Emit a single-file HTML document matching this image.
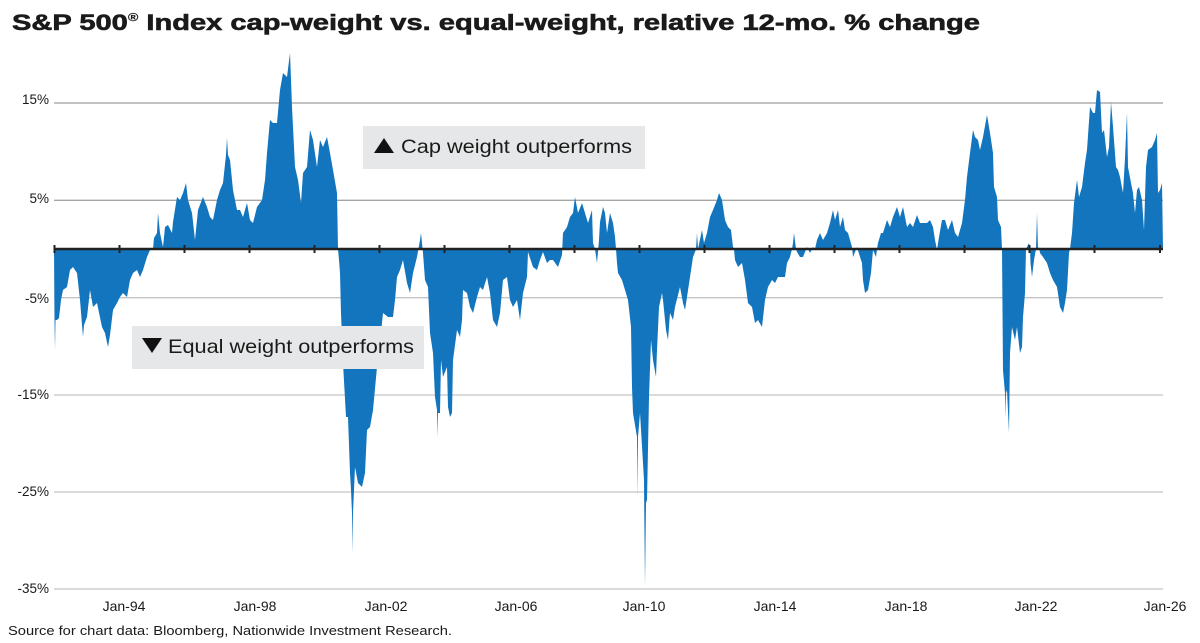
<!DOCTYPE html>
<html>
<head>
<meta charset="utf-8">
<style>
  html, body { margin:0; padding:0; background:#ffffff; }
  body { width:1200px; height:643px; overflow:hidden; }
  svg { display:block; }
  text { font-family: "Liberation Sans", "DejaVu Sans", sans-serif; fill:#1a1a1a; }
</style>
</head>
<body>
<svg width="1200" height="643" viewBox="0 0 1200 643" xmlns="http://www.w3.org/2000/svg">
  <rect x="0" y="0" width="1200" height="643" fill="#ffffff"/>

  <!-- Title -->
  <text x="12" y="30" font-size="22.5" font-weight="bold" stroke="#1a1a1a" stroke-width="0.6" textLength="968" lengthAdjust="spacingAndGlyphs">S&amp;P 500<tspan font-size="11" dy="-9" stroke-width="0.2">®</tspan><tspan dy="9"> Index cap-weight vs. equal-weight, relative 12-mo. % change</tspan></text>

  <!-- Gridlines -->
  <g stroke-width="1.3">
    <line x1="54" y1="103" x2="1163" y2="103" stroke="#9c9c9c"/>
    <line x1="54" y1="200.3" x2="1163" y2="200.3" stroke="#a6a6a6"/>
    <line x1="54" y1="297.7" x2="1163" y2="297.7" stroke="#c4c4c4"/>
    <line x1="54" y1="395" x2="1163" y2="395" stroke="#c4c4c4"/>
    <line x1="54" y1="492" x2="1163" y2="492" stroke="#c4c4c4"/>
    <line x1="54" y1="589" x2="1163" y2="589" stroke="#c4c4c4"/>
  </g>

  <!-- Y labels -->
  <g font-size="13.5" text-anchor="end">
    <text x="49" y="104">15%</text>
    <text x="49" y="203">5%</text>
    <text x="49" y="303">-5%</text>
    <text x="49" y="399">-15%</text>
    <text x="49" y="496">-25%</text>
    <text x="49" y="593">-35%</text>
  </g>

  <!-- Data area -->
  <polygon fill="#1275bd" points="
54,249 54.5,320 55,350 55.5,320 57,320 59,318 61,300 63,290 67,287 70,270 73,267 77,273 80,300 83,337 84,325 87,317 90,290 93,307 97,303 102,327 105,333 108,347 110,335 113,310 117,303 120,297 123,293 127,297 130,280 133,273 137,270 140,277 143,270 147,257 150,250 153,249
154,238 157,233 158,213 160,233 163,247 165,227 168,225 172,233 173,222 177,197 180,200 183,193 186,183 188,200 192,213 195,240 198,210 203,197 207,207 210,217 213,220 217,200 220,190 223,183 226,155 227,138 228,155 230,160 233,190 237,210 240,210 243,217 247,203 250,220 253,223 257,207 262,200 265,180 267,153 270,120 273,123 277,123 280,90 283,73 287,77 290,53 292,107 295,167 298,180 301,203 303,173 307,167 310,130 313,140 317,167 320,140 323,147 327,137 330,153 333,170 337,193 338,249
339,260 340,273 341,313 343,363 346,417 348,417 350,473 351,490 352,513 352.5,553 353,513 355,467 358,483 362,487 365,473 367,430 370,427 373,410 377,367 378,363 383,313 388,317 393,317 395,300 397,277 400,270 403,260 407,283 410,293 413,273 417,257 420,240 421,233 423,253 425,280 428,287 430,333 433,353 435,397 437,410 437.5,437 438,413 440,413 441,360 443,377 447,367 448,407 450,417 452,413 453,360 457,330 460,337 462,320 463,290 467,293 470,307 473,313 477,297 480,287 483,290 487,277 490,293 493,320 497,327 500,313 503,280 507,277 510,300 513,307 517,300 520,320 523,293 527,277 528,252 533,267 537,270 540,260 543,252 547,263 550,260 553,260 558,267 562,255
563,233 567,227 570,217 573,213 575,197 578,213 582,203 585,213 588,223 592,210 593,243 595,249 597,263 599,240 600,222 603,207 605,213 607,233 610,213 613,223 615,237 616,249
617,263 618,273 622,280 625,290 628,300 631,327 632,387 633,413 637,437 637.5,497 638,437 640,413 643,463 644,480 645,587 646,503 647,500 649,397 651,340 653,360 656,377 657,350 659,307 662,293 663,300 666,330 668,340 670,313 673,320 675,307 680,287 683,303 685,310 687,297 690,277 693,257 695,252 696,249
697,233 698,249 702,230 704,243 707,233 710,217 713,210 717,200 719,193 722,200 725,220 728,227 731,230 733,247 734,249
735,260 738,267 742,263 745,280 748,303 752,307 755,323 758,320 762,327 765,300 768,287 772,280 775,283 778,277 782,277 785,277 787,263 790,257 792,249
793,243 794,233 796,249 797,252 800,257 803,257 807,247 810,253 813,247 815,249
817,240 820,233 823,240 827,233 830,223 833,210 835,220 838,210 840,227 843,217 845,230 848,233 852,247 853,257 857,247 860,257 862,263 863,280 865,293 868,290 871,273 873,250 876,257 877,249
878,243 881,233 883,233 887,220 890,227 893,217 897,207 900,217 903,207 907,227 910,223 913,227 917,215 920,223 923,223 927,223 930,220 933,227 935,240 937,250 939,237 942,220 945,220 948,230 952,220 955,233 958,237 962,223 965,200 967,177 970,153 973,130 975,137 978,140 980,150 983,137 987,115 990,133 993,153 994,187 997,197 998,220 1001,227 1002,249
1003,370 1005,393 1005.5,418 1006,393 1007,390 1009,433 1010,353 1012,327 1015,340 1017,327 1020,353 1022,347 1023,317 1025,293 1026,249
1027,247 1029,243 1030,249 1030.5,263 1032,277 1034,260 1036,249 1037,213 1038,249 1039,247 1040,253 1043,257 1047,263 1050,273 1053,280 1057,287 1060,307 1063,313 1065,303 1067,290 1069,253 1070,249
1072,233 1074,203 1077,180 1079,197 1082,187 1085,163 1087,150 1090,107 1093,113 1095,113 1097,90 1100,92 1102,133 1104,130 1107,157 1109,147 1111,102 1113,127 1116,167 1118,170 1120,177 1123,193 1125,158 1127,113 1128,167 1131,183 1133,193 1135,213 1137,190 1139,187 1142,200 1144,230 1146,167 1148,150 1152,147 1155,140 1157,133 1158,193 1160,190 1162,183 1163,249"/>

  <!-- Zero axis -->
  <line x1="54" y1="249" x2="1163" y2="249" stroke="#222222" stroke-width="2.6"/>
  <g stroke="#222222" stroke-width="2">
    <line x1="54.5" y1="245" x2="54.5" y2="253"/>
    <line x1="119.5" y1="245" x2="119.5" y2="253"/>
    <line x1="184.5" y1="245" x2="184.5" y2="253"/>
    <line x1="249.5" y1="245" x2="249.5" y2="253"/>
    <line x1="314.5" y1="245" x2="314.5" y2="253"/>
    <line x1="379.5" y1="245" x2="379.5" y2="253"/>
    <line x1="444.5" y1="245" x2="444.5" y2="253"/>
    <line x1="509.5" y1="245" x2="509.5" y2="253"/>
    <line x1="574.5" y1="245" x2="574.5" y2="253"/>
    <line x1="639.5" y1="245" x2="639.5" y2="253"/>
    <line x1="704.5" y1="245" x2="704.5" y2="253"/>
    <line x1="769.5" y1="245" x2="769.5" y2="253"/>
    <line x1="834.5" y1="245" x2="834.5" y2="253"/>
    <line x1="899.5" y1="245" x2="899.5" y2="253"/>
    <line x1="964.5" y1="245" x2="964.5" y2="253"/>
    <line x1="1029.5" y1="245" x2="1029.5" y2="253"/>
    <line x1="1094.5" y1="245" x2="1094.5" y2="253"/>
    <line x1="1160" y1="245" x2="1160" y2="253"/>
  </g>

  <!-- Annotation boxes -->
  <rect x="363" y="126" width="282" height="43" fill="#e6e7e8"/>
  <polygon points="374,153 384,138 394,153" fill="#111111"/>
  <text x="401" y="153" font-size="19.5" textLength="231" lengthAdjust="spacingAndGlyphs">Cap weight outperforms</text>

  <rect x="132" y="326" width="292" height="43" fill="#e6e7e8"/>
  <polygon points="142,338 162,338 152,353" fill="#111111"/>
  <text x="168" y="353" font-size="19.5" textLength="246" lengthAdjust="spacingAndGlyphs">Equal weight outperforms</text>

  <!-- X labels -->
  <g font-size="14" text-anchor="middle">
    <text x="124" y="611">Jan-94</text>
    <text x="255" y="611">Jan-98</text>
    <text x="386" y="611">Jan-02</text>
    <text x="516" y="611">Jan-06</text>
    <text x="644" y="611">Jan-10</text>
    <text x="775" y="611">Jan-14</text>
    <text x="906" y="611">Jan-18</text>
    <text x="1036" y="611">Jan-22</text>
    <text x="1165" y="611">Jan-26</text>
  </g>

  <!-- Source -->
  <text x="8" y="635" font-size="13" textLength="444" lengthAdjust="spacingAndGlyphs">Source for chart data: Bloomberg, Nationwide Investment Research.</text>
</svg>
</body>
</html>
